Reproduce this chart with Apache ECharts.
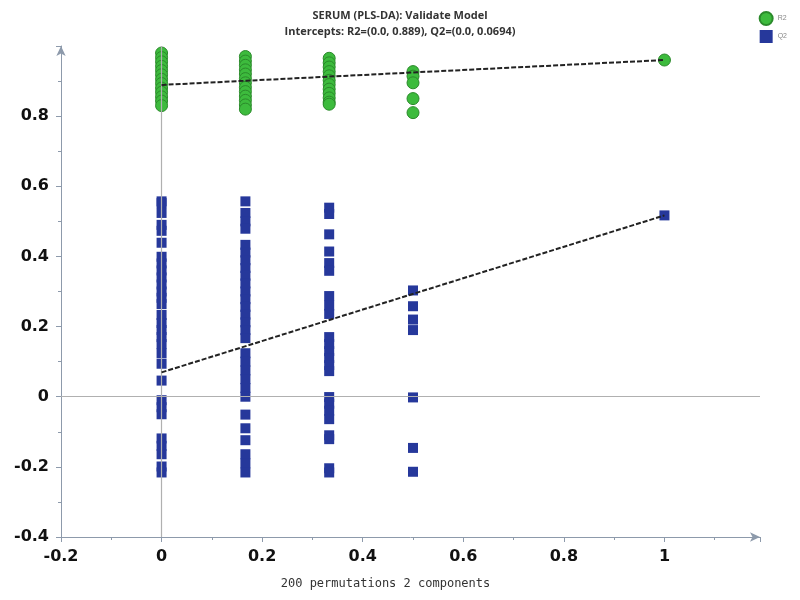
<!DOCTYPE html>
<html>
<head>
<meta charset="utf-8">
<script src="https://cdn.jsdelivr.net/npm/echarts@6/dist/echarts.min.js"></script>
<style>html,body{margin:0;padding:0;background:#fff;}#c{width:800px;height:600px;}</style>
</head>
<body>
<div id="c"></div>
<script>
// x positions (correlation of permuted vs original Y)
var xCols = [0, 0.1667, 0.3333, 0.5, 1];

// R2 values per column
var r2Col0 = [0.98, 0.967, 0.955, 0.942, 0.93, 0.918, 0.905, 0.893, 0.88, 0.868, 0.855, 0.843, 0.83];
var r2Col1 = [0.97, 0.957, 0.945, 0.932, 0.92, 0.907, 0.895, 0.882, 0.87, 0.857, 0.845, 0.832, 0.82];
var r2Col2 = [0.965, 0.952, 0.94, 0.927, 0.915, 0.902, 0.89, 0.877, 0.865, 0.852, 0.84, 0.834];
var r2Col3 = [0.927, 0.914, 0.895, 0.85, 0.81];
var r2Col4 = [0.96];

// Q2 values per column
var q2Col0 = [0.557, 0.552, 0.524, 0.49, 0.473, 0.439, 0.399, 0.38, 0.36, 0.34, 0.32, 0.30, 0.282, 0.264, 0.233, 0.21, 0.19, 0.17, 0.15, 0.124, 0.094, 0.046, -0.01, -0.03, -0.05, -0.119, -0.14, -0.164, -0.199, -0.216];
var q2Col1 = [0.557, 0.524, 0.5, 0.479, 0.433, 0.411, 0.389, 0.367, 0.345, 0.323, 0.30, 0.278, 0.256, 0.234, 0.212, 0.19, 0.167, 0.124, 0.1, 0.075, 0.05, 0.025, 0.0, -0.051, -0.09, -0.124, -0.164, -0.19, -0.216];
var q2Col2 = [0.539, 0.521, 0.463, 0.414, 0.381, 0.359, 0.287, 0.26, 0.236, 0.17, 0.15, 0.13, 0.11, 0.09, 0.073, -0.001, -0.02, -0.04, -0.064, -0.11, -0.121, -0.204, -0.216];
var q2Col3 = [0.303, 0.258, 0.22, 0.19, -0.002, -0.146, -0.214];
var q2Col4 = [0.517];

// Regression lines (intercepts and original model values)
var r2Line = [[0, 0.889], [1, 0.96]];
var q2Line = [[0, 0.0694], [1, 0.517]];

var titleText = 'SERUM (PLS-DA): Validate Model';
var subText = 'Intercepts: R2=(0.0, 0.889), Q2=(0.0, 0.0694)';
var xName = '200 permutations 2 components';

function toPts(cols) {
  var out = [];
  cols.forEach(function (vals, i) {
    vals.forEach(function (v) { out.push([xCols[i], v]); });
  });
  return out;
}
var r2Pts = toPts([r2Col0, r2Col1, r2Col2, r2Col3, r2Col4]);
var q2Pts = toPts([q2Col0, q2Col1, q2Col2, q2Col3, q2Col4]);

var axisCol = '#8d9aab';
var labelStyle = { fontFamily: 'DejaVu Sans', fontWeight: 'bold', fontSize: 16, color: '#111' };

var chart = echarts.init(document.getElementById('c'), null, { renderer: 'canvas' });
chart.setOption({
  animation: false,
  backgroundColor: '#fff',
  title: {
    text: titleText + '\n' + subText,
    left: 'center',
    top: 3,
    textStyle: { fontFamily: 'Open Sans', fontWeight: 'bold', fontSize: 11, color: '#333', lineHeight: 16 }
  },
  legend: {
    orient: 'vertical',
    right: 8,
    top: 6,
    itemWidth: 13,
    itemHeight: 13,
    itemGap: 4,
    textStyle: { fontSize: 7, color: '#888' },
    data: [{ name: 'R2', icon: 'circle' }, { name: 'Q2', icon: 'rect' }]
  },
  grid: { left: 61, right: 40, top: 46, bottom: 63 },
  xAxis: {
    type: 'value',
    min: -0.2,
    max: 1.19,
    interval: 0.2,
    name: xName,
    nameLocation: 'middle',
    nameGap: 41,
    nameTextStyle: { fontFamily: 'DejaVu Sans Mono', fontSize: 12, color: '#333', padding: [0, 50, 0, 0] },
    splitLine: { show: false },
    axisLine: { show: true, onZero: false, lineStyle: { color: axisCol, width: 1 }, symbol: ['none', 'arrow'], symbolSize: [7, 10] },
    axisTick: { show: true, inside: false, length: 5, lineStyle: { color: axisCol } },
    minorTick: { show: true, splitNumber: 2, length: 3, lineStyle: { color: axisCol } },
    axisLabel: Object.assign({ margin: 12, showMaxLabel: false, formatter: function (v) { return +v.toFixed(1) + ''; } }, labelStyle)
  },
  yAxis: {
    type: 'value',
    min: -0.4,
    max: 1.0,
    interval: 0.2,
    splitLine: { show: false },
    axisLine: { show: true, onZero: false, lineStyle: { color: axisCol, width: 1 }, symbol: ['none', 'arrow'], symbolSize: [7, 10] },
    axisTick: { show: true, inside: false, length: 5, lineStyle: { color: axisCol } },
    minorTick: { show: true, splitNumber: 2, length: 3, lineStyle: { color: axisCol } },
    axisLabel: Object.assign({ margin: 12, showMaxLabel: false, formatter: function (v) { return +v.toFixed(1) + ''; } }, labelStyle)
  },
  series: [
    {
      name: 'zero',
      type: 'line',
      data: [],
      silent: true,
      markLine: {
        silent: true,
        symbol: ['none', 'none'],
        label: { show: false },
        lineStyle: { color: '#b0b0b0', type: 'solid', width: 1.2 },
        data: [{ xAxis: 0 }, { yAxis: 0 }]
      }
    },
    {
      name: 'R2',
      type: 'scatter',
      data: r2Pts,
      symbol: 'circle',
      symbolSize: 12,
      itemStyle: { color: '#3dbb3d', borderColor: '#2b8a2b', borderWidth: 1, opacity: 1 },
      z: 3
    },
    {
      name: 'Q2',
      type: 'scatter',
      data: q2Pts,
      symbol: 'rect',
      symbolSize: 10,
      itemStyle: { color: '#26389b', opacity: 1 },
      z: 3
    },
    {
      name: 'R2 line',
      type: 'line',
      data: r2Line,
      symbol: 'none',
      lineStyle: { color: '#222', width: 2, type: [5, 2] },
      z: 5
    },
    {
      name: 'Q2 line',
      type: 'line',
      data: q2Line,
      symbol: 'none',
      lineStyle: { color: '#222', width: 2, type: [5, 2] },
      z: 5
    }
  ]
});
</script>
</body>
</html>
